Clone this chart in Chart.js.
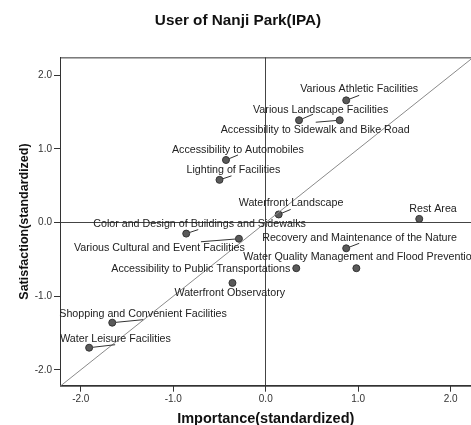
<!DOCTYPE html>
<html>
<head>
<meta charset="utf-8">
<script src="https://cdn.jsdelivr.net/npm/chart.js@4/dist/chart.umd.min.js"></script>
<style>
  html, body { margin: 0; padding: 0; background: #fff; overflow: hidden; }
  #wrap { width: 476px; height: 425px; }
</style>
</head>
<body>
<div id="wrap"><canvas id="ipa"></canvas></div>
<script>
// 항목 이름
var items = [
  'Various Athletic Facilities',
  'Various Landscape Facilities',
  'Accessibility to Sidewalk and Bike Road',
  'Accessibility to Automobiles',
  'Lighting of Facilities',
  'Waterfront Landscape',
  'Rest Area',
  'Color and Design of Buildings and Sidewalks',
  'Various Cultural and Event Facilities',
  'Recovery and Maintenance of the Nature',
  'Water Quality Management and Flood Prevention',
  'Accessibility to Public Transportations',
  'Waterfront Observatory',
  'Shopping and Convenient Facilities',
  'Water Leisure Facilities'
];
// 중요도(x), 만족도(y) - 표준화 점수
var importance   = [0.87, 0.36, 0.80, -0.43, -0.50, 0.14, 1.66, -0.86, -0.29, 0.87, 0.98, 0.33, -0.36, -1.66, -1.91];
var satisfaction = [1.66, 1.39, 1.39, 0.85, 0.58, 0.11, 0.05, -0.15, -0.22, -0.35, -0.62, -0.62, -0.82, -1.36, -1.70];

// 눈금
var xTickValues = [-2, -1, 0, 1, 2];
var xTickLabels = ['-2.0', '-1.0', '0.0', '1.0', '2.0'];
var yTickValues = [-2, -1, 0, 1, 2];
var yTickLabels = ['-2.0', '-1.0', '0.0', '1.0', '2.0'];

// 라벨 위치 (점 기준 픽셀 오프셋: 글자 왼쪽 dx, 글자 중앙 dy, 지시선 끝)
var labelPos = [
  { dx: -46, dy: -11, lx: 13, ly: -5 },
  { dx: -46, dy: -10, lx: 14, ly: -6 },
  { dx: -119, dy: 10, lx: -24, ly: 2 },
  { dx: -54, dy: -10, lx: 12, ly: -5 },
  { dx: -33, dy: -10, lx: 12, ly: -4 },
  { dx: -40, dy: -11, lx: 12, ly: -5 },
  { dx: -10, dy: -10 },
  { dx: -93, dy: -10, lx: 12, ly: -4 },
  { dx: -165, dy: 9, lx: -38, ly: 3 },
  { dx: -84, dy: -10, lx: 13, ly: -5 },
  { dx: -113, dy: -11 },
  { dx: -185, dy: 1 },
  { dx: -58, dy: 10 },
  { dx: -53, dy: -9, lx: 31, ly: -3 },
  { dx: -29, dy: -9, lx: 26, ly: -3 }
];

var points = [];
for (var i = 0; i < items.length; i++) {
  points.push({ x: importance[i], y: satisfaction[i] });
}

// 점 라벨 + 지시선
var pointLabels = {
  id: 'pointLabels',
  afterDatasetsDraw: function(chart) {
    var ctx = chart.ctx;
    var meta = chart.getDatasetMeta(1);
    ctx.save();
    ctx.font = '10.7px "Liberation Sans", Arial, sans-serif';
    ctx.fillStyle = '#222';
    ctx.strokeStyle = '#333';
    ctx.lineWidth = 1;
    ctx.textBaseline = 'middle';
    ctx.textAlign = 'left';
    meta.data.forEach(function(el, i) {
      var p = labelPos[i];
      if (p.lx !== undefined) {
        var len = Math.sqrt(p.lx * p.lx + p.ly * p.ly);
        ctx.beginPath();
        ctx.moveTo(el.x + p.lx / len * 3.5, el.y + p.ly / len * 3.5);
        ctx.lineTo(el.x + p.lx, el.y + p.ly);
        ctx.stroke();
      }
      ctx.fillText(items[i], el.x + p.dx, el.y + p.dy);
    });
    ctx.restore();
  }
};

// 위/오른쪽 테두리
var frame = {
  id: 'frame',
  beforeDatasetsDraw: function(chart) {
    var a = chart.chartArea;
    var ctx = chart.ctx;
    ctx.save();
    ctx.strokeStyle = '#333';
    ctx.lineWidth = 1;
    ctx.strokeRect(a.left + 0.5, a.top + 0.5, a.right - a.left, a.bottom - a.top);
    ctx.restore();
  }
};

function zeroLine(c) {
  return c.tick && c.tick.value === 0 ? '#444' : 'rgba(0,0,0,0)';
}

new Chart(document.getElementById('ipa'), {
  type: 'scatter',
  data: {
    datasets: [{
      type: 'line',
      label: 'y=x',
      data: [{ x: -2.4, y: -2.4 }, { x: 2.4, y: 2.4 }],
      borderColor: '#8a8a8a',
      borderWidth: 1,
      pointRadius: 0,
      fill: false
    }, {
      label: 'items',
      data: points,
      pointRadius: 3.5,
      pointHoverRadius: 3.5,
      backgroundColor: '#5a5a5a',
      borderColor: '#333',
      borderWidth: 1
    }]
  },
  options: {
    responsive: true,
    maintainAspectRatio: false,
    animation: false,
    layout: { padding: 0 },
    plugins: {
      legend: { display: false },
      tooltip: { enabled: false },
      title: {
        display: true,
        text: 'User of Nanji Park(IPA)',
        color: '#111',
        font: { family: '"Liberation Sans", Arial, sans-serif', size: 15.3, weight: 'bold', lineHeight: 1.2 },
        padding: { top: 12, bottom: 27 }
      }
    },
    scales: {
      x: {
        type: 'linear',
        min: -2.225,
        max: 2.225,
        afterBuildTicks: function(s) { s.ticks = xTickValues.map(function(v) { return { value: v }; }); },
        afterFit: function(s) { s.height = 39.3; },
        ticks: {
          color: '#333',
          padding: 2,
          maxRotation: 0,
          font: { family: '"Liberation Sans", Arial, sans-serif', size: 10 },
          callback: function(v, i) { return xTickLabels[i]; }
        },
        grid: { color: zeroLine, tickColor: '#333', tickLength: 6, lineWidth: 1 },
        border: { display: true, color: '#333' },
        title: {
          display: true,
          text: 'Importance(standardized)',
          color: '#111',
          font: { family: '"Liberation Sans", Arial, sans-serif', size: 14.5, weight: 'bold', lineHeight: 1 },
          padding: { top: 0, bottom: -1 }
        }
      },
      y: {
        type: 'linear',
        min: -2.216,
        max: 2.244,
        afterBuildTicks: function(s) { s.ticks = yTickValues.map(function(v) { return { value: v }; }); },
        afterFit: function(s) { s.width = 60; },
        ticks: {
          color: '#333',
          padding: 2,
          font: { family: '"Liberation Sans", Arial, sans-serif', size: 10 },
          callback: function(v, i) { return yTickLabels[i]; }
        },
        grid: { color: zeroLine, tickColor: '#333', tickLength: 6, lineWidth: 1 },
        border: { display: true, color: '#333' },
        title: {
          display: true,
          text: 'Satisfaction(standardized)',
          color: '#111',
          font: { family: '"Liberation Sans", Arial, sans-serif', size: 12.5, weight: 'bold', lineHeight: 1.2 },
          padding: { top: 17, bottom: 0 }
        }
      }
    }
  },
  plugins: [frame, pointLabels]
});
</script>
</body>
</html>
